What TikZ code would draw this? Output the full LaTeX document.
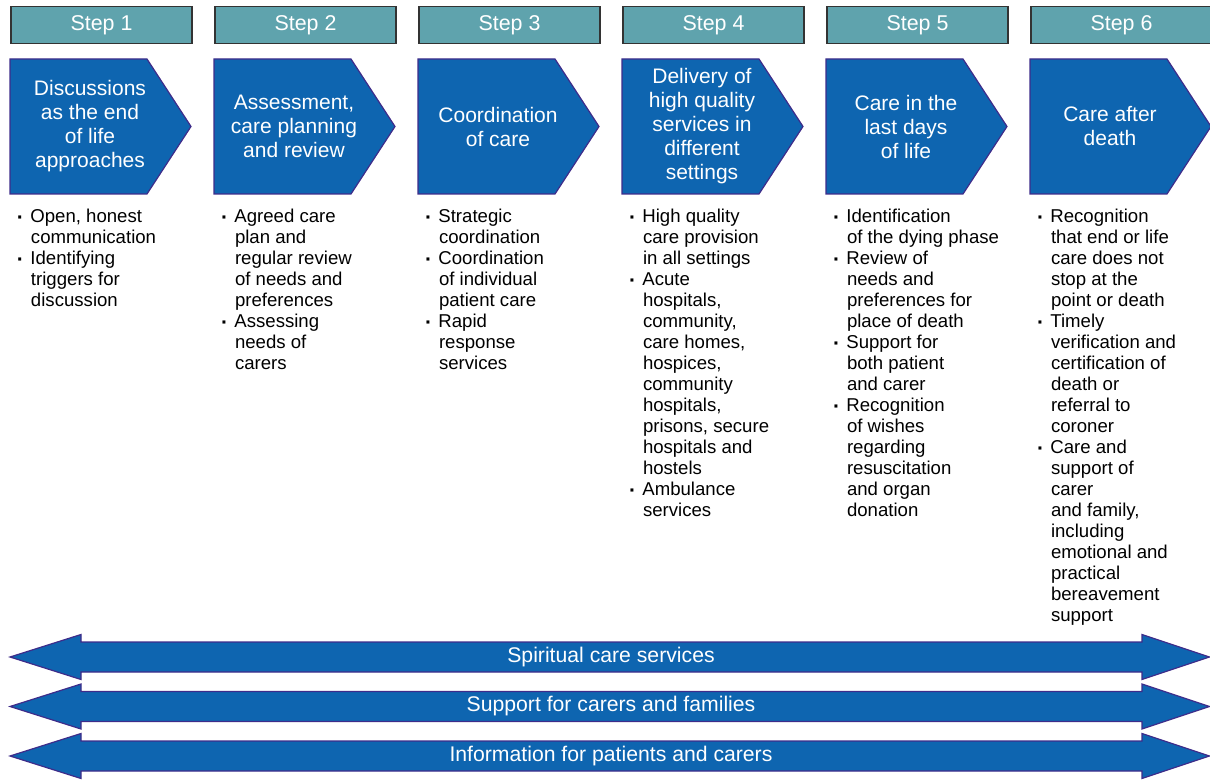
\documentclass[tikz,border=0pt]{standalone}
\usepackage{fontspec}
\setmainfont{Liberation Sans}

\definecolor{stephead}{RGB}{95,163,173}
\definecolor{stepblue}{RGB}{14,101,176}
\definecolor{stepedge}{RGB}{62,44,138}

\tikzset{
  headbox/.style={draw=black!80, fill=stephead, line width=0.6pt, minimum width=90.5pt,
    minimum height=18.5pt, inner sep=0pt, text=white, font=\fontsize{10.7}{12}\selectfont},
  chevron/.style={draw=stepedge, fill=stepblue, line width=0.6pt},
  chevtext/.style={text=white, align=center, font=\fontsize{10.5}{12}\selectfont},
  bullets/.style={anchor=north west, inner sep=0pt, align=left, font=\fontsize{9.3}{10.5}\selectfont},
  band/.style={draw=stepedge, fill=stepblue, line width=0.6pt},
  bandtext/.style={text=white, font=\fontsize{10.6}{12}\selectfont}
}
\newcommand{\bl}{\makebox[7pt][l]{\hspace*{0.3pt}\raisebox{-0.6pt}{\fontsize{10.5}{10}\selectfont\textbf{·}}}}
\newcommand{\cl}{\hspace*{7.3pt}}

\begin{document}
\begin{tikzpicture}[x=0.5pt, y=-0.5pt]
        \useasboundingbox (0,0) rectangle (1210,780);

        % Step headers and chevrons
        \foreach \i/\txt in {1/{Discussions\\as the end\\of life\\approaches},
                             2/{Assessment,\\care planning\\and review},
                             3/{Coordination\\of care},
                             4/{Delivery of\\high quality\\services in\\different\\settings},
                             5/{Care in the\\last days\\of life},
                             6/{Care after\\death}} {
            \pgfmathsetmacro{\x}{10 + (\i-1) * 204}
            \node[headbox] (H\i) at (\x+91.5, 25) {Step \i};
            \draw[chevron] (\x,59) -- ++(137,0) -- ++(44,67.5) -- ++(-44,67.5) -- ++(-137,0) -- cycle;
            \node[chevtext] (C\i) at (\x+80, 126.5) {\txt};
        }

        % Bullet lists under each step
        \node[bullets] (L1) at (16,209) {\bl Open, honest\\ \cl communication\\ \bl Identifying\\ \cl triggers for\\ \cl discussion};
        \node[bullets] (L2) at (220,209) {\bl Agreed care\\ \cl plan and\\ \cl regular review\\ \cl of needs and\\ \cl preferences\\ \bl Assessing\\ \cl needs of\\ \cl carers};
        \node[bullets] (L3) at (424,209) {\bl Strategic\\ \cl coordination\\ \bl Coordination\\ \cl of individual\\ \cl patient care\\ \bl Rapid\\ \cl response\\ \cl services};
        \node[bullets] (L4) at (628,209) {\bl High quality\\ \cl care provision\\ \cl in all settings\\ \bl Acute\\ \cl hospitals,\\ \cl community,\\ \cl care homes,\\ \cl hospices,\\ \cl community\\ \cl hospitals,\\ \cl prisons, secure\\ \cl hospitals and\\ \cl hostels\\ \bl Ambulance\\ \cl services};
        \node[bullets] (L5) at (832,209) {\bl Identification\\ \cl of the dying phase\\ \bl Review of\\ \cl needs and\\ \cl preferences for\\ \cl place of death\\ \bl Support for\\ \cl both patient\\ \cl and carer\\ \bl Recognition\\ \cl of wishes\\ \cl regarding\\ \cl resuscitation\\ \cl and organ\\ \cl donation};
        \node[bullets] (L6) at (1036,209) {\bl Recognition\\ \cl that end or life\\ \cl care does not\\ \cl stop at the\\ \cl point or death\\ \bl Timely\\ \cl verification and\\ \cl certification of\\ \cl death or\\ \cl referral to\\ \cl coroner\\ \bl Care and\\ \cl support of\\ \cl carer\\ \cl and family,\\ \cl including\\ \cl emotional and\\ \cl practical\\ \cl bereavement\\ \cl support};

        % Double arrows across all steps
        \foreach \y/\txt/\nm in {657/Spiritual care services/B1,
                                 706.5/Support for carers and families/B2,
                                 756/Information for patients and carers/B3} {
            \draw[band] (10,\y) -- (81,\y-22.5) -- (81,\y-15) -- (1142,\y-15) -- (1142,\y-22.5)
                -- (1209.4,\y) -- (1142,\y+22.5) -- (1142,\y+15) -- (81,\y+15) -- (81,\y+22.5) -- cycle;
            \node[bandtext] (\nm) at (611,\y) {\txt};
        }

\end{tikzpicture}
\end{document}
